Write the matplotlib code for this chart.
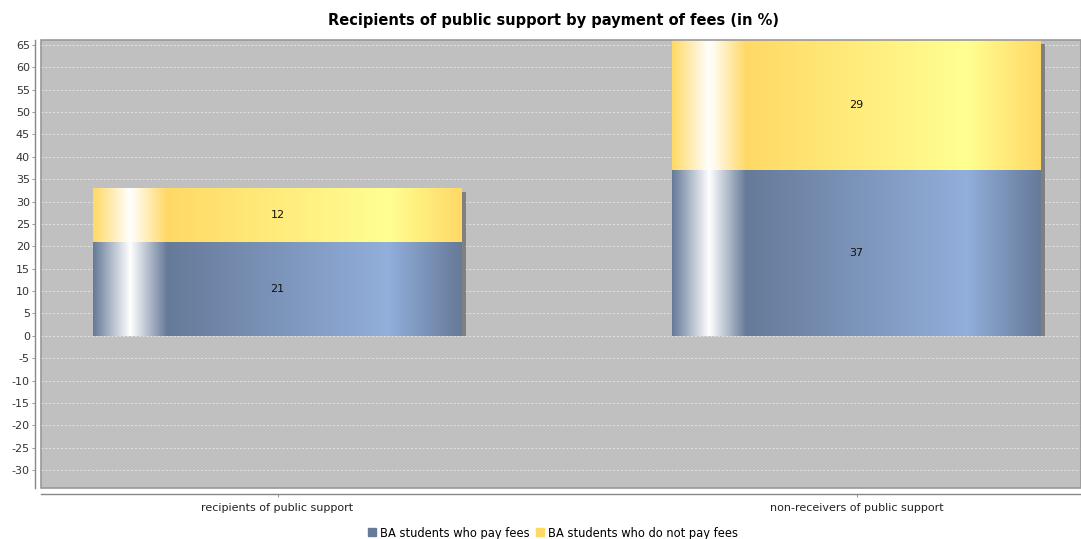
import numpy as np
import matplotlib
matplotlib.use("Agg")
import matplotlib.pyplot as plt
from matplotlib.colors import to_rgb
from matplotlib.patches import Rectangle
from matplotlib.lines import Line2D

categories = ["recipients of public support", "non-receivers of public support"]
series_names = ["BA students who pay fees", "BA students who do not pay fees"]
pay_fees = [21, 37]
no_fees = [12, 29]
series_values = [pay_fees, no_fees]
series_colors = ["#667a99", "#ffd966"]
yticks = list(range(-30, 70, 5))

plt.rcParams['font.family'] = ['DejaVu Sans']

W, H, DPI = 1081, 539, 100
fig = plt.figure(figsize=(W / DPI, H / DPI), dpi=DPI)
ax = fig.add_axes([41 / W, 1 - 488 / H, 1 - 41 / W, (488 - 40) / H])
ax.set_facecolor("#c0c0c0")

x = np.arange(len(categories))
bar_w = 0.637
XL = (-0.4085, 1.3877)
YL = (-34.0, 66.1)
ax.set_xlim(*XL)
ax.set_ylim(*YL)

ppx = (1 - 41 / W) * W / (XL[1] - XL[0])
ppy = (488 - 40) / (YL[1] - YL[0])
dx = 4 / ppx
dy = 4 / ppy


def brighter(c):
    return tuple(min(1.0, v / 0.7) for v in to_rgb(c))


def gradient_row(c, n=400):
    c0 = np.array(to_rgb(c))
    c1 = np.array(brighter(c))
    wh = np.array([1.0, 1.0, 1.0])
    t = np.linspace(0, 1, n)
    out = np.zeros((n, 3))
    for i, v in enumerate(t):
        if v < 0.1:
            f = v / 0.1
            out[i] = c0 * (1 - f) + wh * f
        elif v < 0.2:
            f = (v - 0.1) / 0.1
            out[i] = wh * (1 - f) + c0 * f
        elif v < 0.8:
            f = (v - 0.2) / 0.6
            out[i] = c0 * (1 - f) + c1 * f
        else:
            f = (v - 0.8) / 0.2
            out[i] = c1 * (1 - f) + c0 * f
    return out[np.newaxis, :, :]


for yv in yticks:
    ax.axhline(yv, color="#eeeeee", lw=0.7, ls=(0, (2, 2)), alpha=0.8, zorder=1)

totals = np.array(pay_fees) + np.array(no_fees)
for xi, tot in zip(x, totals):
    ax.bar(xi + dx, tot - dy, bar_w, bottom=0, color="#808080", zorder=2)

bottoms = np.zeros(len(categories))
for vals, col in zip(series_values, series_colors):
    bars = ax.bar(x, vals, bar_w, bottom=bottoms, color="none", zorder=3)
    img = gradient_row(col)
    for rect, v in zip(bars, vals):
        x0, y0 = rect.get_x(), rect.get_y()
        ax.imshow(img, extent=[x0, x0 + rect.get_width(), y0, y0 + rect.get_height()],
                  aspect="auto", interpolation="bilinear", zorder=3)
        ax.text(x0 + rect.get_width() / 2, y0 + rect.get_height() / 2, f"{v}",
                ha="center", va="center", fontsize=8, color="#111111", zorder=5)
    bottoms = bottoms + np.array(vals)

ax.set_xlim(*XL)
ax.set_ylim(*YL)
ax.set_yticks(yticks)
ax.set_yticklabels([str(v) for v in yticks])
ax.set_xticks(x)
ax.set_xticklabels(categories)
ax.tick_params(axis="y", length=2, width=0.6, color="#888888", pad=2,
               labelsize=8, labelcolor="#333333")
ax.tick_params(axis="x", length=2, width=0.6, color="#888888", pad=5,
               labelsize=8, labelcolor="#222222")

for s in ["top", "right"]:
    ax.spines[s].set_visible(False)
ax.spines["left"].set_position(("outward", 4))
ax.spines["bottom"].set_position(("outward", 4))
for s in ["left", "bottom"]:
    ax.spines[s].set_color("#888888")
    ax.spines[s].set_linewidth(1.0)
ax.add_patch(Rectangle((0, 0), 1, 1, transform=ax.transAxes, fill=False,
                       edgecolor="#999999", lw=1.2, zorder=6, clip_on=False))

fig.text(553 / W, 1 - 20 / H, "Recipients of public support by payment of fees (in %)",
         ha="center", va="center", fontsize=10.5, fontweight="bold")

handles = [Line2D([], [], marker="s", ls="none", markersize=6, markerfacecolor=c,
                  markeredgecolor=c) for c in series_colors]
fig.legend(handles, series_names, loc="center", bbox_to_anchor=(553 / W, 1 - 533 / H),
           ncol=2, frameon=False, fontsize=8.3, handlelength=0.7, handletextpad=0.4,
           columnspacing=0.5, borderaxespad=0, borderpad=0)

fig.savefig("out.png", dpi=DPI)
